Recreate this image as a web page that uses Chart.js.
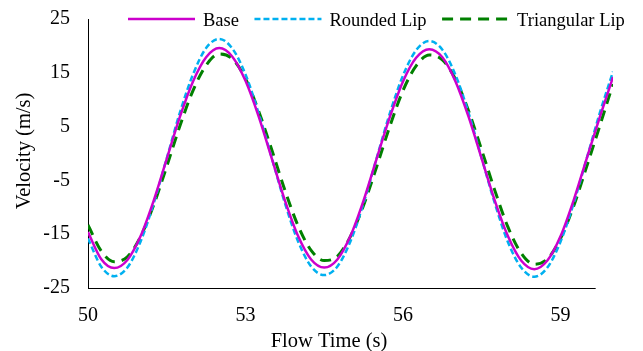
<!DOCTYPE html>
<html>
<head>
<meta charset="utf-8">
<script src="https://cdn.jsdelivr.net/npm/chart.js@4.4.1/dist/chart.umd.min.js"></script>
<style>
html,body{margin:0;padding:0;background:#fff;}
#wrap{width:643px;height:351px;position:relative;}
</style>
</head>
<body>
<div id="wrap"><canvas id="c" width="643" height="351"></canvas></div>
<script>
// ---- data ----
const times = [50.00,50.25,50.50,50.75,51.00,51.25,51.50,51.75,52.00,52.25,
               52.50,52.75,53.00,53.25,53.50,53.75,54.00,54.25,54.50,54.75,
               55.00,55.25,55.50,55.75,56.00,56.25,56.50,56.75,57.00,57.25,
               57.50,57.75,58.00,58.25,58.50,58.75,59.00,59.25,59.50,59.75,60.00];
const base = [-14.6,-19.6,-21.3,-19.8,-15.4,-8.8,-1.0,6.8,13.4,17.9,
              19.6,18.0,13.5,6.9,-0.9,-8.7,-15.3,-19.7,-21.2,-19.7,
              -15.3,-8.7,-0.9,6.8,13.4,17.8,19.4,17.9,13.4,6.8,
              -1.0,-8.8,-15.4,-19.9,-21.5,-19.9,-15.4,-8.7,-0.9,6.8,14.2];
const rounded = [-15.8,-21.0,-22.8,-21.2,-16.4,-9.3,-0.9,7.6,14.7,19.6,
                 21.3,19.5,14.7,7.5,-0.8,-9.2,-16.3,-21.0,-22.6,-21.0,
                 -16.3,-9.2,-0.8,7.5,14.5,19.2,20.9,19.3,14.6,7.5,
                 -0.9,-9.3,-16.5,-21.2,-22.9,-21.2,-16.4,-9.3,-0.9,7.6,15.2];
const triangular = [-13.3,-18.1,-20.1,-19.2,-15.5,-9.6,-2.4,5.1,11.7,16.4,
                    18.5,17.6,13.9,7.9,0.7,-6.8,-13.4,-18.0,-19.9,-19.1,
                    -15.4,-9.6,-2.4,5.1,11.7,16.3,18.3,17.4,13.8,7.9,
                    0.6,-6.9,-13.7,-18.5,-20.6,-19.6,-15.8,-9.8,-2.4,5.2,12.9];
const seriesNames = ['Base', 'Rounded Lip', 'Triangular Lip'];
const xTicks = [50, 53, 56, 59];
const yTicks = [-25, -15, -5, 5, 15, 25];
const xAxisLineEnd = 59.67;   // the drawn x-axis line stops short of the last sample
const xTitle = 'Flow Time (s)';
const yTitle = 'Velocity (m/s)';

// ---- build ----
const toPts = arr => arr.map((v, i) => ({x: times[i], y: v}));
const FONT = '"Liberation Serif", "Times New Roman", serif';

const overlay = {
  id: 'overlay',
  beforeDatasetsDraw(chart) {
    const ctx = chart.ctx, xs = chart.scales.x, ca = chart.chartArea;
    const yy = Math.round(ca.bottom) + 0.5;
    ctx.save();
    ctx.strokeStyle = '#000';
    ctx.lineWidth = 1;
    ctx.beginPath();
    ctx.moveTo(ca.left, yy);
    ctx.lineTo(xs.getPixelForValue(xAxisLineEnd), yy);
    ctx.stroke();
    ctx.restore();
  },
  afterDraw(chart) {
    const ctx = chart.ctx;
    ctx.save();
    // legend overlaid at top
    ctx.font = '18.5px ' + FONT;
    let x = 128; const y = 19;
    chart.data.datasets.forEach(ds => {
      ctx.beginPath();
      ctx.setLineDash(ds.borderDash || []);
      ctx.lineWidth = ds.borderWidth;
      ctx.strokeStyle = ds.borderColor;
      ctx.lineCap = 'butt';
      ctx.moveTo(x, y); ctx.lineTo(x + 67, y); ctx.stroke();
      ctx.setLineDash([]);
      ctx.fillStyle = '#000';
      ctx.textAlign = 'left';
      ctx.textBaseline = 'alphabetic';
      ctx.fillText(ds.label, x + 75, y + 7);
      x += 75 + ctx.measureText(ds.label).width + 15.5;
    });
    // axis titles
    ctx.font = '20.5px ' + FONT;
    ctx.fillStyle = '#000';
    ctx.textAlign = 'center';
    ctx.textBaseline = 'alphabetic';
    ctx.fillText(xTitle, 329, 346.5);
    ctx.translate(29.5, 151);
    ctx.rotate(-Math.PI / 2);
    ctx.fillText(yTitle, 0, 0);
    ctx.restore();
  }
};

new Chart(document.getElementById('c'), {
  type: 'line',
  data: {
    datasets: [
      {label: seriesNames[0], data: toPts(base), borderColor: '#CC00CC', borderWidth: 2.5,
       borderDash: [], pointRadius: 0, cubicInterpolationMode: 'monotone', fill: false},
      {label: seriesNames[1], data: toPts(rounded), borderColor: '#00B0F0', borderWidth: 2.5,
       borderDash: [6, 3], pointRadius: 0, cubicInterpolationMode: 'monotone', fill: false},
      {label: seriesNames[2], data: toPts(triangular), borderColor: '#008000', borderWidth: 3,
       borderDash: [11, 7], pointRadius: 0, cubicInterpolationMode: 'monotone', fill: false}
    ]
  },
  options: {
    responsive: false,
    animation: false,
    devicePixelRatio: 1,
    layout: {padding: {left: 0, right: 30, top: 19, bottom: 0}},
    plugins: {legend: {display: false}, title: {display: false}, tooltip: {enabled: false}},
    scales: {
      x: {
        type: 'linear', min: 50, max: 60,
        afterBuildTicks: s => { s.ticks = xTicks.map(v => ({value: v})); },
        afterFit: s => { s.height = 63; s.paddingLeft = 0; s.paddingRight = 0; },
        grid: {display: false, drawTicks: false},
        border: {display: false},
        ticks: {padding: 16, color: '#000', font: {family: FONT, size: 20}, maxRotation: 0, autoSkip: false,
                callback: v => String(v)}
      },
      y: {
        type: 'linear', min: -25, max: 25,
        afterBuildTicks: s => { s.ticks = yTicks.map(v => ({value: v})); },
        afterFit: s => { s.width = 88; s.paddingTop = 0; s.paddingBottom = 0; },
        grid: {display: false, drawTicks: false},
        border: {display: true, color: '#000', width: 1},
        ticks: {padding: 18, color: '#000', font: {family: FONT, size: 20}, autoSkip: false,
                callback: v => String(v)}
      }
    }
  },
  plugins: [overlay]
});
</script>
</body>
</html>
